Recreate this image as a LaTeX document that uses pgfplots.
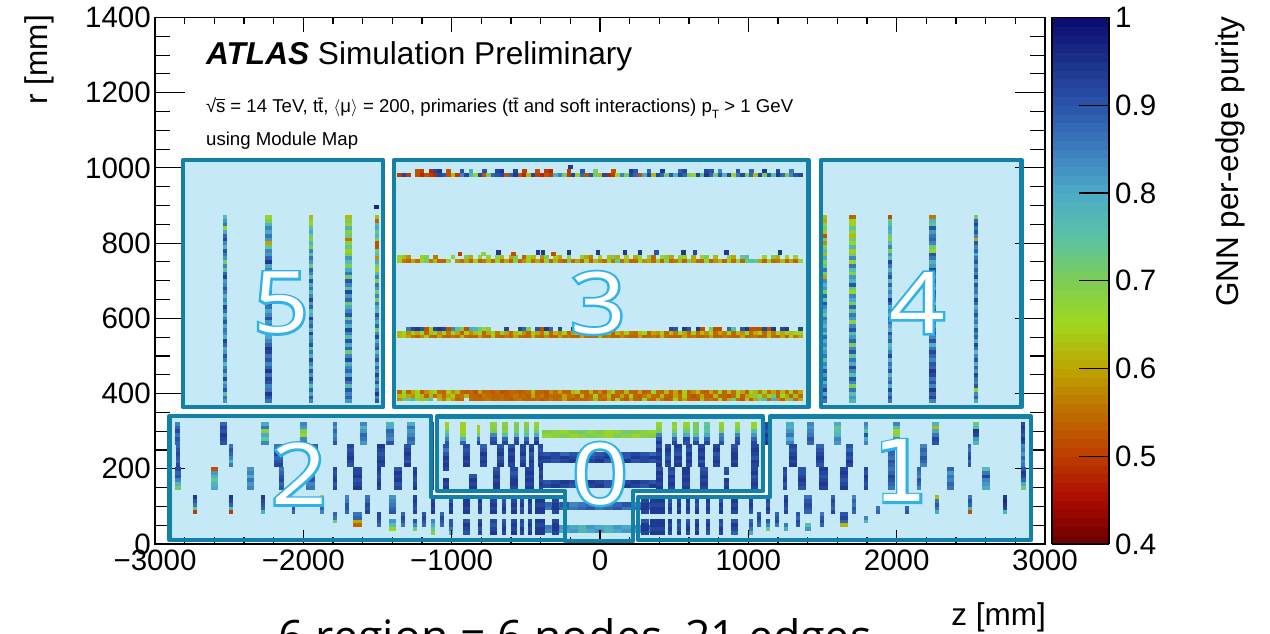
\documentclass[border=0pt]{standalone}
\usepackage{fontspec}
\usepackage{pgfplots}
\usepackage{pgfplotstable}
\pgfplotsset{compat=1.18}
\setmainfont{Liberation Sans}
\newfontfamily\digitfont{Open Sans}
\newfontfamily\onefont{DejaVu Sans}
\definecolor{boxfill}{RGB}{197,233,247}
\definecolor{boxline}{RGB}{19,128,168}
\newcommand\tfs{\fontsize{29.5}{31}\selectfont}
\newcommand\lfs{\fontsize{31.5}{33}\selectfont}
\pgfdeclareplotmark{cell}{%
  \pgfmathsetlengthmacro\cwpt{\cw*0.155}%
  \pgfpathrectangle{\pgfpoint{-0.5*\cwpt}{-2.05pt}}{\pgfpoint{\cwpt}{4.1pt}}%
  \pgfusepathqfill}
\pgfplotsset{cellplot/.style={scatter,only marks,mark=cell,point meta=explicit,
  scatter/use mapped color={draw=none,fill=mapped color}}}
% one run of bins: x expression, y expression, bin width in mm, purity in % (0 = empty bin)
\newcommand\cells[4]{\addplot[cellplot,visualization depends on={#3 \as \cw}]
  table[row sep=\\,header=false,x expr={#1},y expr={\thisrowno{0}>0 ? #2 : nan},meta expr=\thisrowno{0}*0.01]{#4};}
\newcommand\hrow[2]{\cells{-1350+30*\coordindex}{#1}{30}{#2}}
\newcommand\vcol[3]{\cells{#1}{380+10*\coordindex}{#2}{#3}}
% one group of detector blocks: table, lowest r, last purity column
\newcommand\blockrow[3]{\pgfplotsinvokeforeach{0,...,#3}{%
  \addplot[cellplot,visualization depends on={\thisrow{w} \as \cw}]
  table[x=z,y expr={\thisrow{a##1}>0 ? #2+10*##1 : nan},meta expr=\thisrow{a##1}*0.01]{#1};}}
\pgfplotstableread{
z w a0 a1 a2 a3 a4 a5
-2847 30 88 90 86 92 88 84
-2535 45 90 92 94 90 92 88
-2258 49 84 74 80 68 86 80
-1998 45 86 84 66 70 82 84
-1787 27 90 86 84 88 82 86
-1595 49 82 86 88 82 78 84
-1416 49 90 84 86 88 80 78
-1274 49 86 88 84 82 86 80
-1130 27 94 92 94 92 90 92
-1034 27 90 84 78 72 66 64
-921 40 88 78 68 66 64 66
-820 22 92 86 72 66 64 0
-719 45 92 90 84 70 68 68
-640 36 92 88 76 68 70 68
-562 30 92 90 78 70 72 70
-494 30 92 88 76 72 70 68
-427 30 94 90 80 70 68 66
400 40 94 90 84 70 68 66
501 36 92 88 78 70 66 68
580 45 90 92 80 72 68 66
647 40 92 86 76 70 72 70
719 40 92 88 80 74 76 74
820 31 90 86 84 70 68 66
926 36 92 90 84 72 68 66
1038 36 92 88 82 76 66 66
1124 22 94 92 94 90 92 92
1281 49 84 80 86 82 78 80
1420 49 88 90 86 84 82 84
1600 49 82 84 78 76 74 80
1791 27 84 80 90 76 82 84
2000 49 80 84 68 66 76 84
2263 45 90 92 86 80 62 78
2535 36 78 82 92 94 76 72
2854 27 92 94 90 92 94 92
}\rowA
\pgfplotstableread{
z w a0 a1 a2 a3 a4 a5
-2847 27 92 88 90 92 90 88
-2488 27 86 78 84 88 90 86
-2168 63 92 90 88 92 90 86
-1933 63 90 92 86 88 92 88
-1679 45 90 92 94 92 90 92
-1476 54 92 94 92 90 92 94
-1297 49 94 90 92 94 92 90
-1130 27 94 94 92 94 92 92
-1038 36 94 92 94 90 86 90
-899 45 94 92 94 92 90 92
-786 49 92 94 92 94 90 88
-674 45 94 92 90 94 92 90
-596 49 92 94 94 92 94 90
-517 40 94 92 90 94 92 92
-461 31 92 94 92 90 94 92
-400 36 94 92 94 92 90 92
400 40 94 92 94 92 94 90
461 40 92 94 90 92 94 92
524 49 94 92 94 90 92 94
602 40 92 94 92 94 90 92
685 49 94 90 94 92 94 92
787 45 92 94 92 90 94 92
906 45 94 92 94 94 92 90
1045 49 92 94 90 92 94 92
1303 49 94 92 94 92 90 92
1483 49 90 92 94 92 90 88
1685 45 92 94 90 92 88 90
1966 45 88 90 86 88 90 86
2180 45 84 88 90 86 88 84
2490 22 90 88 92 90 86 88
2854 27 86 84 88 82 86 84
}\rowB
\pgfplotstableread{
z w a0 a1 a2 a3 a4 a5
-2847 40 72 78 84 90 88 92
-2600 49 80 78 74 78 82 52
-2355 49 84 82 86 80 84 82
-2146 31 90 88 92 90 88 86
-1955 58 86 84 90 88 86 90
-1787 27 92 90 94 92 90 92
-1636 54 94 92 90 94 92 92
-1488 27 92 94 92 90 92 94
-1360 49 92 90 94 92 94 90
-1247 31 94 92 90 92 94 92
-1130 27 94 92 94 92 94 92
-1038 36 94 92 94 0 0 92
-858 49 94 92 94 90 0 0
-697 49 94 94 92 94 92 90
-580 49 92 94 94 92 90 92
-472 58 94 92 94 92 94 92
-400 27 92 94 92 94 92 94
400 45 94 92 94 92 94 90
479 45 92 94 92 94 90 92
580 49 94 92 94 92 94 94
703 49 92 94 92 94 92 90
854 36 94 92 94 0 92 90
1040 45 92 94 92 90 94 92
1247 27 92 90 94 92 90 92
1360 49 90 92 94 92 90 90
1506 54 92 94 92 90 92 94
1645 49 94 92 90 92 94 92
1791 27 92 90 92 94 90 92
1966 49 86 88 90 92 88 86
2153 27 84 88 90 84 86 88
2364 49 86 88 84 86 82 88
2602 49 80 82 84 92 86 76
2854 31 72 80 88 92 94 90
}\rowC
\pgfplotstableread{
z w a0 a1 a2 a3 a4
-2728 27 50 74 86 90 94
-2488 27 50 78 88 92 94
-2270 27 78 88 90 92 94
-2067 22 88 90 0 0 0
-1872 27 84 88 90 84 66
-1708 27 88 90 90 86 84
-1568 27 92 90 92 88 86
-1398 49 90 88 86 84 82
-1247 27 92 90 92 94 92
-1128 27 94 92 94 92 90
-1007 27 94 92 94 90 92
-899 45 94 92 94 94 92
-809 27 92 94 92 94 90
-719 49 94 92 94 92 94
-647 27 92 94 92 90 92
-580 40 94 92 94 92 94
-528 27 92 90 94 92 94
-472 27 94 92 92 94 92
-405 67 94 94 92 94 94
-303 45 92 94 94 92 94
303 49 92 94 94 92 94
387 100 94 94 92 94 94
472 27 92 94 92 90 94
535 27 94 92 94 92 92
591 27 92 94 92 94 90
652 27 94 92 90 92 94
730 27 92 94 92 94 92
813 27 94 92 94 90 92
906 45 92 94 92 94 94
1016 27 90 92 94 92 90
1130 27 92 94 90 92 94
1252 27 92 90 92 94 92
1404 49 88 90 92 90 86
1573 27 92 88 90 92 88
1712 27 88 90 86 88 84
1872 27 88 86 0 0 0
2072 27 90 88 0 0 0
2274 27 80 86 90 86 62
2494 27 52 78 88 90 86
2730 27 78 92 94 96 94
}\rowD
\pgfplotstableread{
z w a0 a1 a2 a3 a4
-1787 27 0 0 72 86 88
-1636 54 0 54 60 88 86
-1488 27 0 88 90 92 92
-1398 49 66 76 82 0 0
-1326 27 0 86 90 92 88
-1247 27 72 84 90 0 0
-1186 27 0 88 90 92 90
-1067 27 0 88 90 92 88
1072 27 0 88 90 92 90
1191 27 0 86 92 90 88
1130 27 72 84 90 0 0
1252 27 80 86 0 0 0
1337 27 0 90 92 88 90
1404 40 82 76 0 0 0
1494 27 0 88 92 90 86
1645 49 0 62 88 92 90
1793 27 0 0 78 84 0
}\rowE
\pgfplotstableread{
z w a0 a1 a2 a3
-1128 27 68 74 80 84
-1007 27 80 86 90 90
-899 49 90 92 94 90
-809 27 92 90 94 92
-719 49 94 92 90 92
-647 27 92 94 92 90
-580 40 94 92 94 92
-528 27 92 94 90 92
-472 27 94 92 94 92
-405 67 94 94 92 94
-303 45 92 94 94 92
303 49 92 94 94 90
387 100 94 92 94 94
472 27 92 94 92 94
535 27 94 92 90 92
591 27 92 94 92 90
652 27 94 92 94 92
730 27 90 92 94 92
813 27 92 94 90 92
906 45 88 92 94 90
1016 27 80 86 90 88
}\rowF
\pgfplotstableread{
z r c
-944 772 50
-787 772 68
-686 775 94
-585 772 52
-418 775 94
-385 775 94
-315 772 52
-209 775 94
-13 775 94
168 775 94
270 775 94
382 775 90
562 775 94
640 775 92
854 775 94
1214 775 94
-1505 895 96
-200 1002 94
}\sparse
\begin{document}
\begin{tikzpicture}
\path[use as bounding box] (0,0) rectangle (1270pt,633pt);
\clip (0,0) rectangle (1270pt,633pt);
\begin{scope}[x=1pt,y=-1pt,shift={(0,633pt)}]
 \fill[boxfill] (183,160) rectangle (383,407);
 \fill[boxfill] (394,160) rectangle (808.5,407);
 \fill[boxfill] (821,160) rectangle (1021.5,407);
 \fill[boxfill] (169.5,416) -- (431,416) -- (431,497) -- (565,497) -- (565,540) -- (169.5,540) -- cycle;
 \fill[boxfill] (437,416.5) -- (763,416.5) -- (763,491) -- (633,491) -- (633,541) -- (565,541) -- (565,491) -- (437,491) -- cycle;
 \fill[boxfill] (770,416.5) -- (1031,416.5) -- (1031,540) -- (638,540) -- (638,497) -- (770,497) -- cycle;
\end{scope}
\begin{axis}[at={(155pt,89pt)},anchor=south west,scale only axis,width=890pt,height=526.5pt,
  xmin=-3000,xmax=3000,ymin=0,ymax=1400,
  xtick=\empty,
  ytick={0,200,...,1400},
  minor y tick num=3,
  tick align=inside,
  major tick length=30pt,minor tick length=15pt,
  every tick/.style={black,line width=1.1pt},
  axis line style={black,line width=1.6pt},
  y tick label style={font=\tfs,inner sep=4pt},
  /pgf/number format/assume math mode=true,
  /pgf/number format/1000 sep={},
  clip=true,
  point meta min=0.4,point meta max=1,
  colormap={atlas}{rgb255=(107,0,0) rgb255=(170,10,0) rgb255=(190,60,0) rgb255=(190,110,0)
    rgb255=(190,165,0) rgb255=(160,215,30) rgb255=(125,205,85) rgb255=(90,195,165)
    rgb255=(75,170,200) rgb255=(60,125,190) rgb255=(42,84,170) rgb255=(28,50,138) rgb255=(10,10,110)},
  colormap name=atlas,
  colorbar sampled,
  colorbar style={at={(1.00787,1)},anchor=north west,width=57pt,height=526.5pt,
    scale only axis,
    samples=61,
    every axis plot post/.append style={shader=faceted,faceted color=mapped color,line width=1pt},
    ytick={0.4,0.5,...,1.0},
    yticklabels={0.4,0.5,0.6,0.7,0.8,0.9,1},
    yticklabel pos=right,
    ytick pos=right,
    tick align=inside,
    major tick length=30pt,
    y tick label style={font=\tfs,inner sep=6pt},
    axis line style={black,line width=1.2pt},
    every tick/.style={black,line width=1.1pt}},
]
% barrel strip layers
\hrow{982}{50\\92\\50\\0\\52\\48\\52\\50\\48\\92\\90\\52\\62\\50\\84\\92\\78\\66\\92\\52\\70\\88\\90\\92\\52\\88\\94\\52\\48\\62\\92\\50\\48\\52\\50\\78\\84\\70\\50\\92\\64\\88\\52\\90\\72\\62\\92\\48\\50\\66\\84\\70\\92\\88\\52\\80\\92\\62\\92\\88\\72\\90\\78\\92\\88\\70\\66\\92\\74\\94\\88\\72\\90\\78\\92\\66\\86\\92\\70\\88\\62\\92\\70\\90\\76\\94\\88\\70\\84\\90\\92\\}
\hrow{992}{0\\0\\0\\0\\52\\50\\0\\48\\92\\94\\0\\52\\0\\0\\90\\0\\80\\0\\0\\90\\0\\0\\92\\94\\0\\0\\92\\0\\50\\0\\0\\52\\0\\50\\48\\0\\0\\0\\50\\0\\0\\90\\0\\0\\70\\0\\0\\0\\52\\0\\0\\0\\94\\90\\0\\0\\88\\0\\0\\94\\0\\0\\0\\88\\92\\0\\0\\0\\0\\92\\90\\0\\84\\0\\0\\0\\90\\0\\0\\88\\0\\0\\94\\0\\0\\92\\0\\0\\86\\0\\0\\}
\hrow{752}{64\\56\\54\\60\\55\\66\\70\\56\\62\\54\\54\\66\\0\\58\\55\\60\\54\\64\\54\\56\\62\\55\\66\\54\\60\\54\\68\\54\\58\\64\\55\\60\\54\\66\\54\\62\\56\\54\\70\\55\\60\\54\\66\\54\\62\\58\\55\\64\\56\\72\\55\\62\\54\\54\\66\\58\\60\\55\\64\\54\\68\\54\\56\\62\\54\\70\\60\\55\\54\\66\\54\\58\\62\\54\\64\\55\\66\\54\\72\\76\\74\\60\\54\\64\\55\\56\\62\\54\\60\\54\\66\\}
\hrow{762}{66\\62\\58\\0\\0\\64\\70\\0\\56\\0\\0\\0\\68\\0\\0\\70\\60\\0\\66\\0\\66\\0\\68\\62\\0\\60\\70\\0\\54\\66\\62\\0\\58\\70\\0\\64\\60\\0\\66\\0\\0\\68\\60\\56\\0\\64\\0\\62\\72\\60\\0\\64\\0\\60\\66\\0\\68\\54\\0\\66\\70\\60\\0\\68\\64\\0\\60\\0\\66\\70\\0\\62\\0\\0\\68\\60\\0\\74\\76\\0\\0\\0\\66\\0\\70\\60\\0\\64\\0\\66\\0\\}
\hrow{552}{62\\64\\60\\56\\54\\58\\64\\55\\54\\60\\55\\54\\56\\54\\62\\55\\54\\54\\60\\55\\54\\64\\55\\54\\56\\54\\60\\55\\54\\54\\62\\55\\54\\58\\54\\54\\60\\55\\56\\54\\54\\60\\55\\54\\54\\62\\55\\56\\54\\54\\58\\55\\54\\54\\60\\54\\55\\56\\54\\62\\55\\54\\54\\54\\60\\55\\56\\54\\54\\55\\60\\54\\54\\56\\55\\54\\54\\60\\54\\55\\56\\54\\54\\62\\55\\54\\60\\54\\64\\56\\60\\}
\hrow{562}{62\\66\\58\\64\\60\\66\\54\\62\\68\\58\\64\\56\\66\\60\\54\\64\\58\\62\\66\\54\\60\\64\\56\\68\\60\\54\\62\\66\\58\\54\\64\\60\\56\\66\\54\\62\\58\\64\\54\\60\\66\\56\\62\\58\\64\\54\\60\\66\\54\\62\\58\\64\\56\\55\\62\\66\\54\\60\\58\\64\\54\\62\\56\\66\\60\\54\\64\\55\\62\\58\\66\\54\\60\\56\\64\\54\\62\\58\\66\\54\\60\\64\\54\\62\\56\\66\\60\\64\\62\\66\\64\\}
\hrow{572}{0\\0\\86\\92\\94\\90\\52\\64\\92\\94\\92\\52\\84\\76\\70\\52\\80\\78\\72\\66\\70\\0\\0\\0\\92\\0\\0\\92\\88\\70\\0\\90\\52\\94\\88\\0\\92\\0\\0\\94\\0\\90\\0\\88\\0\\78\\0\\0\\52\\0\\0\\0\\0\\0\\0\\0\\0\\0\\0\\0\\0\\92\\90\\0\\94\\90\\0\\94\\52\\0\\70\\52\\52\\0\\88\\76\\0\\90\\94\\52\\52\\52\\92\\52\\94\\0\\92\\94\\0\\0\\92\\}
\hrow{385}{58\\72\\74\\78\\68\\62\\70\\76\\0\\62\\56\\64\\60\\54\\55\\0\\55\\54\\54\\55\\56\\54\\54\\55\\54\\53\\55\\56\\54\\54\\54\\55\\53\\54\\56\\54\\55\\60\\54\\53\\55\\54\\54\\56\\62\\55\\54\\60\\54\\64\\55\\53\\60\\54\\54\\66\\55\\54\\62\\56\\53\\54\\64\\55\\60\\54\\54\\53\\62\\55\\56\\54\\66\\54\\60\\72\\55\\53\\64\\54\\60\\72\\76\\55\\80\\58\\54\\62\\74\\55\\60\\}
\hrow{395}{62\\64\\60\\58\\66\\62\\54\\62\\55\\60\\54\\60\\64\\55\\56\\62\\54\\54\\53\\56\\55\\54\\54\\55\\53\\54\\56\\54\\55\\53\\60\\54\\56\\53\\55\\54\\54\\60\\55\\56\\53\\62\\54\\55\\64\\54\\56\\62\\53\\54\\60\\54\\64\\54\\53\\56\\60\\55\\54\\62\\54\\53\\60\\55\\64\\54\\52\\54\\60\\54\\53\\62\\54\\54\\52\\55\\64\\53\\60\\62\\70\\66\\58\\64\\72\\54\\66\\60\\54\\62\\55\\}
\hrow{405}{54\\66\\54\\60\\64\\53\\58\\62\\66\\55\\54\\64\\58\\62\\54\\53\\55\\52\\60\\54\\54\\53\\55\\52\\53\\54\\54\\53\\54\\55\\62\\54\\54\\53\\58\\55\\60\\54\\54\\62\\64\\55\\54\\62\\54\\58\\53\\60\\64\\55\\54\\62\\54\\54\\60\\53\\54\\66\\55\\54\\62\\54\\60\\53\\64\\54\\58\\62\\54\\53\\60\\55\\66\\54\\62\\55\\64\\60\\54\\66\\62\\56\\64\\55\\60\\54\\62\\55\\66\\54\\60\\}
% endcap strip disks, low r to high r
\vcol{-2528}{27}{82\\86\\76\\90\\84\\80\\92\\78\\88\\84\\76\\86\\90\\82\\80\\88\\92\\78\\84\\86\\80\\90\\84\\76\\88\\92\\80\\84\\78\\86\\90\\84\\82\\92\\88\\76\\84\\70\\82\\86\\90\\78\\84\\92\\88\\80\\66\\86\\82\\76\\}
\vcol{-2235}{45}{86\\90\\94\\86\\84\\90\\92\\86\\94\\88\\84\\90\\86\\92\\94\\88\\84\\80\\88\\90\\86\\82\\90\\84\\80\\86\\92\\88\\76\\84\\86\\90\\82\\78\\86\\84\\80\\94\\88\\82\\84\\74\\60\\82\\86\\80\\84\\78\\70\\66\\}
\vcol{-1948}{27}{84\\90\\80\\88\\76\\86\\92\\82\\90\\78\\84\\92\\80\\86\\76\\90\\84\\82\\92\\78\\88\\84\\92\\80\\76\\88\\82\\92\\84\\78\\86\\80\\90\\76\\84\\88\\72\\82\\86\\76\\84\\70\\78\\68\\72\\80\\76\\64\\68\\62\\}
\vcol{-1696}{45}{82\\88\\84\\90\\76\\86\\92\\80\\88\\84\\78\\92\\84\\72\\88\\80\\90\\76\\84\\92\\78\\86\\74\\90\\84\\80\\72\\88\\82\\92\\76\\84\\90\\72\\86\\80\\70\\76\\82\\70\\64\\74\\68\\56\\72\\68\\78\\64\\70\\62\\}
\vcol{-1505}{27}{90\\84\\94\\86\\80\\90\\84\\92\\82\\88\\80\\90\\84\\76\\90\\86\\80\\92\\84\\72\\88\\80\\84\\90\\76\\80\\86\\70\\84\\72\\82\\86\\68\\84\\78\\64\\70\\80\\58\\76\\72\\52\\52\\70\\78\\74\\80\\78\\54\\62\\}
\vcol{1517}{22}{86\\90\\80\\92\\84\\78\\88\\82\\90\\80\\84\\76\\86\\82\\78\\84\\80\\88\\76\\84\\78\\82\\86\\74\\80\\84\\90\\76\\88\\70\\82\\78\\84\\60\\72\\86\\74\\68\\80\\62\\76\\70\\58\\72\\52\\64\\72\\68\\60\\62\\}
\vcol{1703}{45}{78\\82\\76\\86\\70\\84\\90\\76\\84\\92\\80\\86\\74\\90\\84\\70\\88\\82\\76\\90\\84\\68\\82\\86\\74\\88\\70\\80\\84\\66\\72\\90\\78\\82\\68\\76\\86\\66\\84\\70\\64\\78\\66\\72\\62\\68\\74\\64\\66\\54\\}
\vcol{1955}{27}{86\\90\\84\\92\\78\\88\\84\\76\\90\\82\\86\\78\\92\\84\\80\\76\\88\\84\\90\\78\\82\\86\\92\\78\\84\\80\\88\\94\\80\\84\\78\\88\\76\\90\\84\\78\\86\\92\\76\\82\\70\\84\\76\\68\\72\\78\\80\\76\\74\\52\\}
\vcol{2243}{45}{84\\92\\88\\94\\84\\90\\86\\92\\94\\88\\90\\84\\88\\92\\86\\78\\90\\84\\92\\88\\82\\86\\90\\84\\92\\86\\70\\84\\88\\92\\80\\86\\90\\84\\88\\92\\82\\78\\86\\90\\66\\72\\84\\88\\86\\82\\90\\74\\78\\56\\}
\vcol{2535}{27}{80\\88\\84\\68\\90\\84\\86\\92\\82\\88\\80\\90\\84\\76\\86\\92\\80\\88\\84\\90\\78\\86\\82\\90\\84\\78\\88\\92\\80\\86\\84\\90\\78\\92\\84\\88\\82\\90\\86\\80\\88\\84\\90\\60\\84\\90\\86\\92\\88\\70\\}
% central pixel barrel layers
\cells{-360+60*\coordindex}{288}{60}{66\\68\\70\\66\\68\\70\\68\\66\\70\\68\\66\\68\\70\\}
\cells{-360+60*\coordindex}{298}{60}{70\\68\\66\\70\\72\\68\\70\\66\\68\\72\\70\\68\\66\\}
\cells{-360+60*\coordindex}{222}{60}{92\\90\\92\\94\\90\\92\\94\\90\\92\\94\\90\\92\\90\\}
\cells{-360+60*\coordindex}{232}{60}{94\\92\\94\\92\\94\\90\\92\\94\\92\\90\\94\\92\\94\\}
\cells{-360+60*\coordindex}{240}{60}{90\\92\\88\\90\\92\\88\\90\\92\\88\\90\\92\\90\\88\\}
\cells{-360+60*\coordindex}{155}{60}{92\\94\\92\\90\\94\\92\\94\\90\\92\\94\\92\\90\\94\\}
\cells{-360+60*\coordindex}{165}{60}{90\\92\\94\\92\\90\\94\\92\\90\\94\\92\\94\\92\\90\\}
\cells{-360+60*\coordindex}{95}{60}{86\\90\\88\\86\\88\\90\\86\\88\\90\\86\\88\\90\\86\\}
\cells{-360+60*\coordindex}{105}{60}{88\\86\\90\\84\\86\\88\\84\\86\\88\\90\\84\\86\\88\\}
\cells{-360+60*\coordindex}{35}{60}{84\\82\\80\\82\\78\\80\\82\\78\\80\\82\\80\\84\\82\\}
\cells{-360+60*\coordindex}{45}{60}{86\\84\\82\\80\\78\\82\\80\\78\\82\\80\\84\\84\\86\\}
% detector blocks
\blockrow{\rowA}{270}{5}
\blockrow{\rowB}{210}{5}
\blockrow{\rowC}{150}{5}
\blockrow{\rowD}{85}{4}
\blockrow{\rowE}{40}{4}
\blockrow{\rowF}{30}{3}
\addplot[cellplot,visualization depends on={30 \as \cw}] table[x=z,y=r,meta expr=\thisrow{c}*0.01]{\sparse};
\end{axis}
% second axis: the x scale, whose ticks are shorter than those of r
\begin{axis}[at={(155pt,89pt)},anchor=south west,scale only axis,width=890pt,height=526.5pt,
  xmin=-3000,xmax=3000,ymin=0,ymax=1400,
  ytick=\empty,
  xtick={-3000,-2000,...,3000},
  xticklabels={−3000,−2000,−1000,0,1000,2000,3000},
  minor x tick num=4,
  tick align=inside,
  major tick length=14pt,minor tick length=7pt,
  every tick/.style={black,line width=1.1pt},
  axis line style={black,line width=1.6pt},
  x tick label style={font=\tfs,inner sep=2pt,yshift=-4pt},
]
\end{axis}
\begin{scope}[x=1pt,y=-1pt,shift={(0,633pt)}]
 \begin{scope}[draw=boxline,line width=4.5pt,line join=round]
 \draw (183,160) rectangle (383,407);
 \draw (394,160) rectangle (808.5,407);
 \draw (821,160) rectangle (1021.5,407);
 \draw (169.5,416) -- (431,416) -- (431,497) -- (565,497) -- (565,540) -- (169.5,540) -- cycle;
 \draw (437,416.5) -- (763,416.5) -- (763,491) -- (633,491) -- (633,541) -- (565,541) -- (565,491) -- (437,491) -- cycle;
 \draw (770,416.5) -- (1031,416.5) -- (1031,540) -- (638,540) -- (638,497) -- (770,497) -- cycle;
 \end{scope}
 \newcommand\glow[2][\digitfont]{{#1\fontsize{85}{85}\selectfont\rlap{\special{pdf:code q 2 Tr 4.2 w 0.18 0.70 0.91 RG 0.18 0.70 0.91 rg}#2\special{pdf:code Q}}\textcolor{white}{#2}}}
 \node[inner sep=0pt,xscale=1.15,transform shape] at (281,303) {\glow{5}};
 \node[inner sep=0pt,xscale=1.15,transform shape] at (598,303) {\glow{3}};
 \node[inner sep=0pt,xscale=1.15,transform shape] at (917,303) {\glow{4}};
 \node[inner sep=0pt,xscale=1.15,transform shape] at (299,474) {\glow{2}};
 \node[inner sep=0pt,xscale=1.15,transform shape] at (600,474) {\glow{0}};
 \node[inner sep=0pt] at (901,471) {\glow[\onefont]{1}};
 \node[anchor=base west,inner sep=0pt] at (206,65) {\fontsize{31.6}{33}\selectfont\textbf{\textit{ATLAS}} Simulation Preliminary};
 \node[anchor=base west,inner sep=0pt] at (206,113) {\fontsize{18.6}{20}\selectfont √\kern-0.4pt\rlap{\rule[13.5pt]{9pt}{0.8pt}}s = 14 TeV, t\=t, $\langle$μ$\rangle$ = 200, primaries (t\=t and soft interactions) p\raisebox{-6pt}{\fontsize{12}{12}\selectfont T} > 1 GeV};
 \node[anchor=base west,inner sep=0pt] at (206,146) {\fontsize{18.6}{20}\selectfont using Module Map};
 \node[rotate=90,anchor=north east,inner sep=0pt] at (24,15) {\lfs r [mm]};
 \node[anchor=base east,inner sep=0pt] at (1046,625) {\lfs z [mm]};
 \node[rotate=90,anchor=base east,inner sep=0pt] at (1238,16) {\lfs GNN per-edge purity};
 \node[anchor=base,inner sep=0pt] at (575,652) {\digitfont\fontsize{44.7}{48}\selectfont 6 region = 6 nodes, 21 edges};
\end{scope}
\end{tikzpicture}
\end{document}
